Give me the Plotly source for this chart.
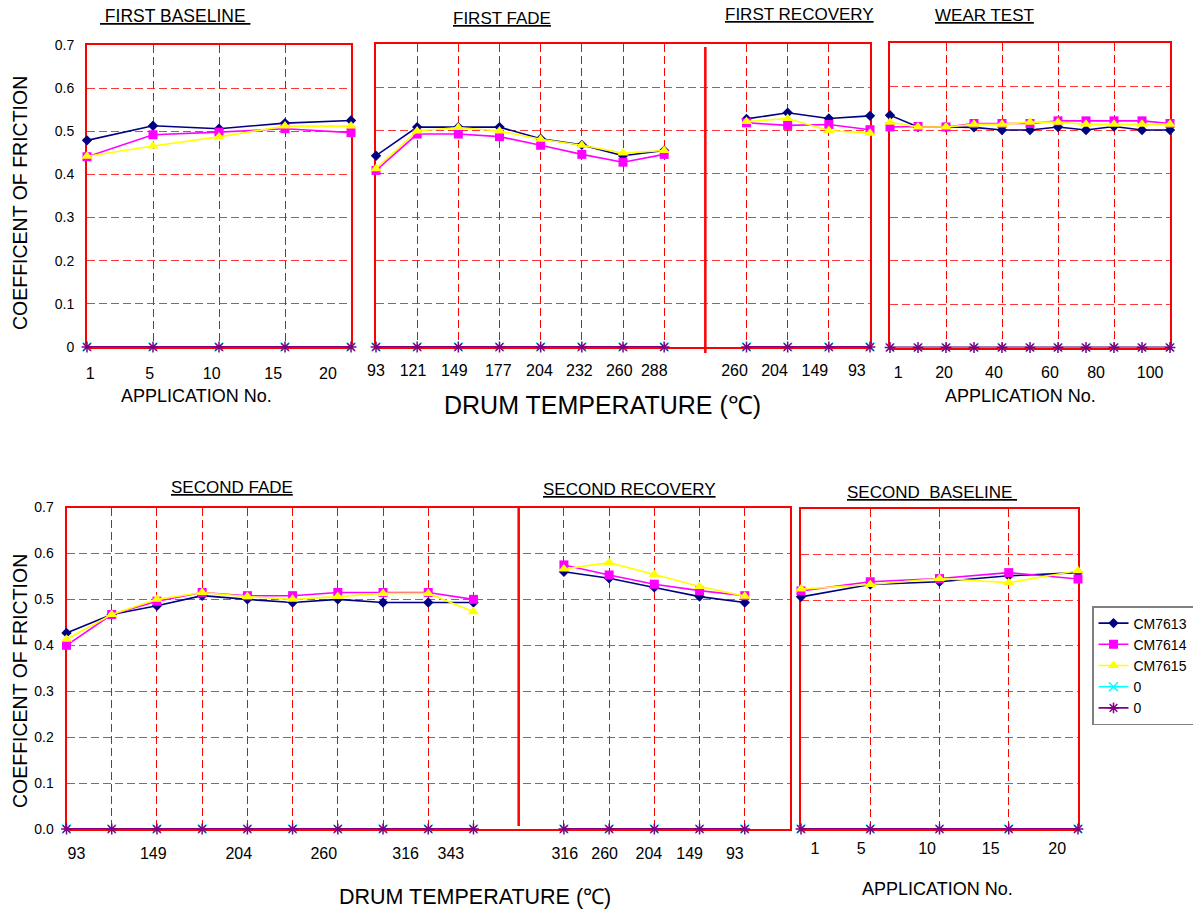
import plotly.graph_objects as go

W, H = 1193, 913

# ---------------- data ----------------
series_names = ["CM7613", "CM7614", "CM7615", "0", "0"]

baseline1_apps = ["1", "5", "10", "15", "20"]
baseline1_cm7613 = [0.479, 0.513, 0.506, 0.519, 0.525]
baseline1_cm7614 = [0.441, 0.492, 0.498, 0.506, 0.497]
baseline1_cm7615 = [0.442, 0.466, 0.487, 0.512, 0.512]
baseline1_zero = [0, 0, 0, 0, 0]

fade1_temps = ["93", "121", "149", "177", "204", "232", "260", "288"]
fade1_cm7613 = [0.442, 0.508, 0.508, 0.508, 0.481, 0.467, 0.442, 0.454]
fade1_cm7614 = [0.408, 0.492, 0.492, 0.486, 0.466, 0.445, 0.427, 0.445]
fade1_cm7615 = [0.412, 0.499, 0.507, 0.499, 0.480, 0.466, 0.448, 0.454]
fade1_zero = [0, 0, 0, 0, 0, 0, 0, 0]

recovery1_temps = ["260", "204", "149", "93"]
recovery1_cm7613 = [0.527, 0.541, 0.528, 0.534]
recovery1_cm7614 = [0.518, 0.512, 0.514, 0.502]
recovery1_cm7615 = [0.521, 0.528, 0.500, 0.494]
recovery1_zero = [0, 0, 0, 0]

wear_apps = ["1", "10", "20", "30", "40", "50", "60", "70", "80", "90", "100"]
wear_tick_labels = ["1", "20", "40", "60", "80", "100"]
wear_cm7613 = [0.534, 0.507, 0.507, 0.506, 0.500, 0.500, 0.507, 0.500, 0.508, 0.500, 0.500]
wear_cm7614 = [0.507, 0.508, 0.507, 0.515, 0.515, 0.515, 0.521, 0.521, 0.521, 0.521, 0.515]
wear_cm7615 = [0.518, 0.507, 0.507, 0.513, 0.513, 0.518, 0.518, 0.513, 0.513, 0.513, 0.513]
wear_zero = [0, 0, 0, 0, 0, 0, 0, 0, 0, 0, 0]

fade2_temps = ["93", "121", "149", "177", "204", "232", "260", "288", "316", "343"]
fade2_tick_labels = ["93", "149", "204", "260", "316", "343"]
fade2_cm7613 = [0.427, 0.467, 0.486, 0.508, 0.500, 0.493, 0.500, 0.493, 0.493, 0.493]
fade2_cm7614 = [0.400, 0.467, 0.496, 0.515, 0.508, 0.508, 0.515, 0.515, 0.515, 0.500]
fade2_cm7615 = [0.413, 0.467, 0.500, 0.515, 0.506, 0.500, 0.506, 0.513, 0.513, 0.473]
fade2_zero = [0, 0, 0, 0, 0, 0, 0, 0, 0, 0]

recovery2_temps = ["316", "260", "204", "149", "93"]
recovery2_cm7613 = [0.560, 0.546, 0.526, 0.506, 0.493]
recovery2_cm7614 = [0.575, 0.553, 0.533, 0.519, 0.508]
recovery2_cm7615 = [0.566, 0.580, 0.554, 0.528, 0.507]
recovery2_zero = [0, 0, 0, 0, 0]

baseline2_apps = ["1", "5", "10", "15", "20"]
baseline2_cm7613 = [0.507, 0.534, 0.540, 0.553, 0.560]
baseline2_cm7614 = [0.520, 0.540, 0.547, 0.560, 0.546]
baseline2_cm7615 = [0.524, 0.534, 0.547, 0.538, 0.564]
baseline2_zero = [0, 0, 0, 0, 0]

y_tick_vals = [0.0, 0.1, 0.2, 0.3, 0.4, 0.5, 0.6, 0.7]
top_y_tick_text = ["0", "0.1", "0.2", "0.3", "0.4", "0.5", "0.6", "0.7"]

# ---------------- style ----------------
FONT = "Liberation Sans, Arial, Helvetica, sans-serif"
RED = "#FF0000"
GRID = "rgba(255,20,20,0.85)"
DASH = "8px,4px"
colors = ["#000080", "#FF00FF", "#FFFF00", "#00FFFF", "#800080"]
symbols = ["diamond", "square", "triangle-up", "x-thin-open", "asterisk-open"]
msizes = [8, 9, 10, 9, 9]
lwidths = [1.6, 1.6, 1.6, 1.6, 1.8]


def fx(p):
    return p / W


def fy(p):
    return 1 - p / H


def idx(labels, start=0):
    return [start + i for i in range(len(labels))]


n_f1 = len(fade1_temps)
n_f2 = len(fade2_temps)

sections = [
    ("x", "y", idx(baseline1_apps),
     [baseline1_cm7613, baseline1_cm7614, baseline1_cm7615, baseline1_zero, baseline1_zero]),
    ("x2", "y2", idx(fade1_temps),
     [fade1_cm7613, fade1_cm7614, fade1_cm7615, fade1_zero, fade1_zero]),
    ("x2", "y2", idx(recovery1_temps, n_f1 + 1),
     [recovery1_cm7613, recovery1_cm7614, recovery1_cm7615, recovery1_zero, recovery1_zero]),
    ("x3", "y3", idx(wear_apps),
     [wear_cm7613, wear_cm7614, wear_cm7615, wear_zero, wear_zero]),
    ("x4", "y4", idx(fade2_temps),
     [fade2_cm7613, fade2_cm7614, fade2_cm7615, fade2_zero, fade2_zero]),
    ("x4", "y4", idx(recovery2_temps, n_f2 + 1),
     [recovery2_cm7613, recovery2_cm7614, recovery2_cm7615, recovery2_zero, recovery2_zero]),
    ("x5", "y5", idx(baseline2_apps),
     [baseline2_cm7613, baseline2_cm7614, baseline2_cm7615, baseline2_zero, baseline2_zero]),
]

fig = go.Figure()
for si, (xa, ya, xs, ys_list) in enumerate(sections):
    for k, ys in enumerate(ys_list):
        open_sym = symbols[k].endswith("open")
        fig.add_trace(go.Scatter(
            x=xs, y=ys, xaxis=xa, yaxis=ya,
            mode="lines+markers", name=series_names[k],
            legendgroup="g%d" % k, showlegend=(si == 0),
            line=dict(color=colors[k], width=lwidths[k]),
            marker=dict(symbol=symbols[k], size=msizes[k], color=colors[k],
                        line=dict(color=colors[k], width=1.5 if open_sym else 0)),
            cliponaxis=False, hoverinfo="skip",
        ))


def xcfg(px0, px1, rng, tickvals, ticktext, gridvals, standoff):
    return dict(domain=[fx(px0), fx(px1)], range=[0, rng], tickmode="array",
                tickvals=tickvals, ticktext=ticktext, showgrid=False, zeroline=False,
                showline=True, mirror=True, linecolor=RED, linewidth=2,
                ticks="outside", ticklen=standoff, tickcolor="rgba(0,0,0,0)",
                tickfont=dict(size=16, color="black", family=FONT),
                minor=dict(tickmode="array", tickvals=gridvals, showgrid=True,
                           gridcolor=RED, griddash=DASH, gridwidth=1, ticks=""),
                layer="below traces", fixedrange=True)


def ycfg(px_top, px_bot, labels, show):
    d = dict(domain=[fy(px_bot), fy(px_top)], range=[0, 0.7], tickmode="array",
             tickvals=y_tick_vals, showgrid=True, gridcolor=GRID, griddash=DASH,
             gridwidth=1, zeroline=False, showline=True, mirror=True,
             linecolor=RED, linewidth=2, ticks="outside", ticklen=8,
             tickcolor="rgba(0,0,0,0)", showticklabels=show,
             tickfont=dict(size=14, color="black", family=FONT),
             layer="below traces", fixedrange=True)
    if labels is not None:
        d["ticktext"] = labels
    else:
        d["tickformat"] = ".1f"
    return d


# tick label positions (layout, in index units)
p1_ticks = [0.05, 0.95, 1.89, 2.82, 3.65]
p2_ticks = [0.0, 0.90, 1.90, 2.97, 3.97, 4.94, 5.91, 6.76, 8.71, 9.68, 10.66, 11.68]
p3_ticks = [0.29, 1.93, 3.71, 5.71, 7.36, 9.29]
p4_ticks = [0.22, 1.92, 3.81, 5.69, 7.5, 8.5, 11.02, 11.9, 12.88, 13.78, 14.78]
p5_ticks = [0.2, 0.87, 1.82, 2.74, 3.7]

fig.update_layout(
    xaxis=xcfg(87, 351, len(baseline1_apps) - 1, p1_ticks, baseline1_apps, [1, 2, 3], 11),
    yaxis=ycfg(45, 347, top_y_tick_text, True),
    xaxis2=xcfg(376, 870, n_f1 + len(recovery1_temps), p2_ticks,
                fade1_temps + recovery1_temps, [1, 2, 3, 4, 5, 6, 7, 9, 10, 11], 8),
    yaxis2=ycfg(44, 347, None, False),
    xaxis3=xcfg(890, 1170, len(wear_apps) - 1, p3_ticks, wear_tick_labels, [2, 4, 6, 8], 9),
    yaxis3=ycfg(43, 347.5, None, False),
    xaxis4=xcfg(66.5, 790, n_f2 + len(recovery2_temps) + 1, p4_ticks,
                fade2_tick_labels + recovery2_temps,
                [1, 2, 3, 4, 5, 6, 7, 8, 9, 11, 12, 13, 14, 15], 9),
    yaxis4=ycfg(507.5, 829, None, True),
    xaxis5=xcfg(801, 1078, len(baseline2_apps) - 1, p5_ticks, baseline2_apps, [1, 2, 3], 4),
    yaxis5=ycfg(508.5, 829, None, False),
)
for i in range(1, 6):
    fig.layout["xaxis" + ("" if i == 1 else str(i))].anchor = "y" + ("" if i == 1 else str(i))
    fig.layout["yaxis" + ("" if i == 1 else str(i))].anchor = "x" + ("" if i == 1 else str(i))

# section dividers
fig.add_shape(type="line", xref="x2", yref="paper", x0=n_f1, x1=n_f1,
              y0=fy(353), y1=fy(47), line=dict(color=RED, width=2.5))
fig.add_shape(type="line", xref="x4", yref="paper", x0=n_f2, x1=n_f2,
              y0=fy(826), y1=fy(506), line=dict(color=RED, width=2.5))

ann = []


def text(t, xp, yp, size, angle=0):
    ann.append(dict(text=t, x=fx(xp), y=fy(yp), xref="paper", yref="paper",
                    xanchor="center", yanchor="middle", showarrow=False,
                    textangle=angle, font=dict(size=size, color="black", family=FONT)))


text("<u>\u00a0FIRST BASELINE\u00a0</u>", 175, 16, 17.5)
text("<u>FIRST FADE</u>", 502, 19, 17)
text("<u>FIRST RECOVERY</u>", 799, 14.5, 17)
text("<u>WEAR TEST</u>", 984, 16, 17)
text("<u>SECOND FADE</u>", 232, 488, 17)
text("<u>SECOND RECOVERY</u>", 630, 489, 17)
text("<u>SECOND\u00a0 BASELINE\u00a0</u>", 932, 492, 17)
text("APPLICATION No.", 196, 396, 18)
text("APPLICATION No.", 1020, 396, 18)
text("APPLICATION No.", 937, 889, 18)
text("DRUM TEMPERATURE (\u2103)", 603, 405, 25)
text("DRUM TEMPERATURE (\u2103)", 475, 897, 21.5)
text("COEFFICENT OF FRICTION", 20, 203, 19.5, -90)
text("COEFFICENT OF FRICTION", 20, 681, 19.5, -90)

fig.update_layout(
    annotations=ann,
    width=W, height=H,
    margin=dict(l=0, r=0, t=0, b=0, autoexpand=False),
    paper_bgcolor="white", plot_bgcolor="white",
    font=dict(family=FONT, color="black"),
    legend=dict(x=fx(1092), y=fy(606), xanchor="left", yanchor="top",
                bordercolor="#808080", borderwidth=1.5, bgcolor="white",
                font=dict(size=14, color="black", family=FONT),
                traceorder="normal", tracegroupgap=0, itemwidth=30),
)

fig.write_html("out.html",
               config={"displayModeBar": False},
               post_script="document.body.style.margin='0';document.body.style.overflow='hidden';")
